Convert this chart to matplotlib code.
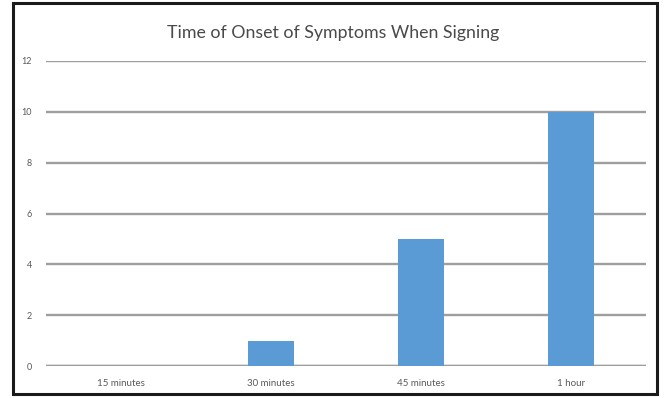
import matplotlib
matplotlib.use("Agg")
import matplotlib.pyplot as plt
from matplotlib.patches import Rectangle

# Onset counts per time bucket
categories = ["15 minutes", "30 minutes", "45 minutes", "1 hour"]
counts = [0, 1, 5, 10]
y_ticks = [0, 2, 4, 6, 8, 10, 12]

BAR_COLOR = "#5B9BD5"
GRID_COLOR = "#9E9E9E"
TEXT_COLOR = "#595959"

plt.rcParams["font.family"] = ["Lato", "DejaVu Sans"]

W, H = 667, 398
fig = plt.figure(figsize=(W / 100, H / 100), dpi=100)
fig.patch.set_facecolor("white")

# outer border of the chart
fig.patches.append(Rectangle((13 / W, 4 / H), (657 - 13) / W, (395 - 4) / H,
                             transform=fig.transFigure, fill=False,
                             edgecolor="#1a1a1a", lw=2.2))

ax = fig.add_axes([46 / W, (H - 366) / H, (646 - 46) / W, (366 - 61) / H])
x = range(len(categories))
ax.bar(x, counts, width=0.31, color=BAR_COLOR, zorder=3)

ax.set_xlim(-0.5, len(categories) - 0.5)
ax.set_ylim(0, 12)
ax.set_yticks(y_ticks)
ax.set_yticklabels([str(v) for v in y_ticks], fontsize=6.5, color=TEXT_COLOR)
ax.set_xticks(list(x))
ax.set_xticklabels(categories, fontsize=7, color=TEXT_COLOR)
ax.tick_params(axis="both", length=0)
ax.tick_params(axis="y", pad=10)
ax.tick_params(axis="x", pad=9)
ax.yaxis.grid(True, color=GRID_COLOR, lw=1.7, zorder=0)
for side in ("top", "right", "left", "bottom"):
    ax.spines[side].set_visible(False)
ax.axhline(0, color=GRID_COLOR, lw=1.7, zorder=2)

fig.text(333 / W, 1 - 33 / H, "Time of Onset of Symptoms When Signing",
         ha="center", va="center", fontsize=12.8, color="#4a4a4a")

fig.savefig("out.png", dpi=100)
